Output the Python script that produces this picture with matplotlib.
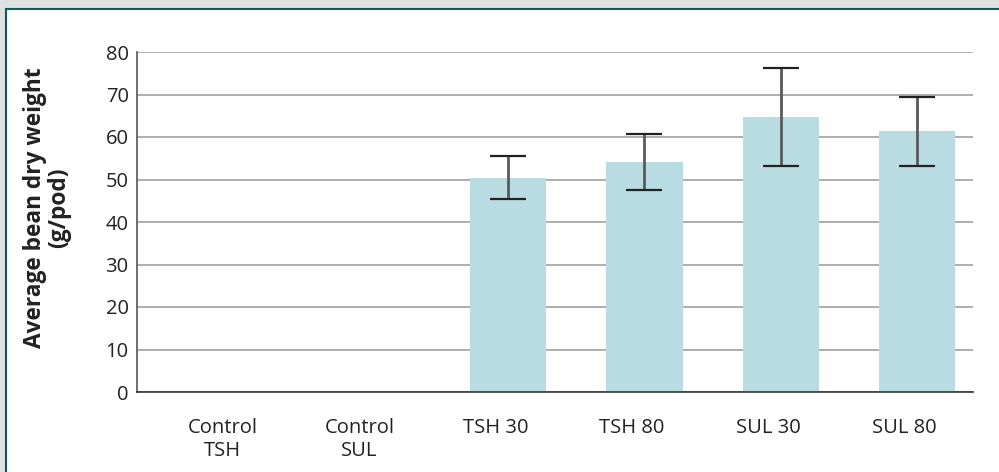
import matplotlib.pyplot as plt
from matplotlib.patches import Rectangle

plt.rcParams['font.family'] = ['Open Sans', 'DejaVu Sans']

categories = ['Control\nTSH', 'Control\nSUL', 'TSH 30', 'TSH 80', 'SUL 30', 'SUL 80']
means = [None, None, 50.4, 54.1, 64.7, 61.4]
err_low = [None, None, 45.3, 47.5, 53.2, 53.2]
err_high = [None, None, 55.5, 60.6, 76.3, 69.4]

W, H = 999, 472
fig = plt.figure(figsize=(W / 100, H / 100), dpi=100)
fig.patch.set_facecolor('#dde1e4')

# white panel with dark teal top/left border
panel = Rectangle((6 / W, -0.1), 1.2, 1 - 9 / H + 0.1, transform=fig.transFigure,
                  facecolor='white', edgecolor='#14595a', linewidth=1.5, zorder=-10)
fig.patches.append(panel)

ax = fig.add_axes([137 / W, 1 - 392 / H, (973 - 137) / W, (392 - 52) / H])
ax.set_facecolor('none')
ax.set_zorder(5)

idx = [i for i, m in enumerate(means) if m is not None]
vals = [means[i] for i in idx]
lo = [means[i] - err_low[i] for i in idx]
hi = [err_high[i] - means[i] for i in idx]

ax.bar(idx, vals, width=0.56, color='#b8dce1', zorder=2)
ax.errorbar(idx, vals, yerr=[lo, hi], fmt='none', ecolor='#5a5a5a', elinewidth=2,
            capsize=0, zorder=3)
ax.errorbar(idx, vals, yerr=[lo, hi], fmt='none', ecolor='#222222', elinewidth=0,
            capsize=13.3, capthick=1.6, zorder=4)

ax.set_ylim(0, 80)
ax.set_xlim(-0.72, 5.41)
ax.set_yticks(range(0, 81, 10))
ax.yaxis.grid(True, color='#a0a0a0', linewidth=1.2)
ax.set_axisbelow(True)

ax.set_xticks([i - 0.09 for i in range(len(categories))])
ax.set_xticklabels(categories, fontsize=14.5, color='#222222', linespacing=1.2)
ax.tick_params(axis='both', length=0, labelsize=14.5, labelcolor='#222222')
ax.tick_params(axis='y', pad=6)
ax.tick_params(axis='x', pad=19)

for s in ['top', 'right']:
    ax.spines[s].set_visible(False)
ax.spines['left'].set_color('#555555')
ax.spines['bottom'].set_color('#333333')
ax.spines['left'].set_linewidth(1.2)
ax.spines['bottom'].set_linewidth(1.2)

fig.text(47 / W, 1 - 208 / H, 'Average bean dry weight\n(g/pod)', rotation=90,
         ha='center', va='center', fontsize=16.3, fontweight='bold', color='#222222',
         linespacing=1.0, zorder=6)

fig.savefig('out.png', dpi=100)
